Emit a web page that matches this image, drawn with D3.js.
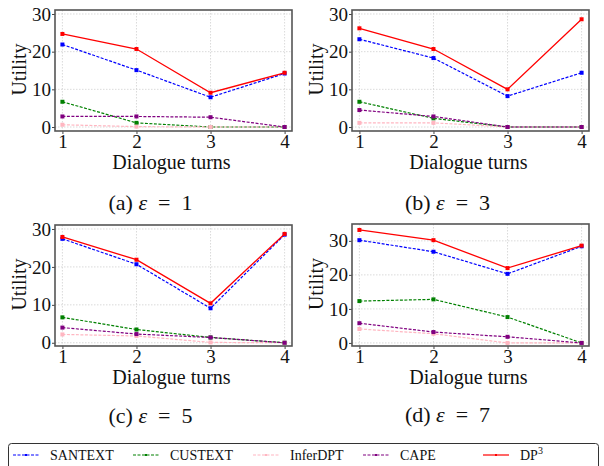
<!DOCTYPE html>
<html>
<head>
<meta charset="utf-8">
<style>
  body { margin: 0; background: white; }
  svg { font-family: 'Liberation Serif', 'Times New Roman', serif; }
</style>
</head>
<body>
<svg width="604" height="466"></svg>
<script src="https://d3js.org/d3.v7.min.js"></script>
<script>
// dialogue turns on the x axis
const turns = [1, 2, 3, 4];

const methods = ["SANTEXT", "CUSTEXT", "InferDPT", "CAPE", "DP3"];
const colors = ["#0000ff", "#008000", "#ffb6c1", "#800080", "#ff0000"];

// utility per method, one array per panel (eps = 1, 3, 5, 7)
const eps1 = [
  [21.9, 15.1, 7.9, 14.2],
  [6.7, 1.1, 0.0, 0.0],
  [0.6, 0.1, 0.0, 0.0],
  [2.8, 2.8, 2.6, 0.0],
  [24.7, 20.7, 9.1, 14.4]
];
const eps3 = [
  [23.3, 18.3, 8.2, 14.4],
  [6.7, 2.3, 0.0, 0.0],
  [1.1, 1.1, 0.0, 0.0],
  [4.5, 2.8, 0.0, 0.0],
  [26.2, 20.7, 10.0, 28.6]
];
const eps5 = [
  [27.4, 20.7, 9.1, 28.5],
  [6.7, 3.5, 1.4, 0.0],
  [2.2, 1.8, 0.1, 0.0],
  [4.0, 2.3, 1.4, 0.0],
  [27.9, 21.9, 10.4, 28.7]
];
const eps7 = [
  [30.2, 26.8, 20.3, 28.4],
  [12.3, 12.8, 7.6, 0.0],
  [4.1, 2.7, 0.0, 0.0],
  [5.8, 3.2, 1.8, 0.0],
  [33.2, 30.2, 22.0, 28.6]
];

const yTicks = [0, 10, 20, 30];
const captions = ["(a) ", "(b) ", "(c) ", "(d) "];
const epsValues = [1, 3, 5, 7];

const panels = [
  { data: eps1, x: 55, y: 10, ydom: [-1.06, 31.06] },
  { data: eps3, x: 352, y: 10, ydom: [-1.06, 31.06] },
  { data: eps5, x: 55, y: 225, ydom: [-0.85, 31.05] },
  { data: eps7, x: 352, y: 224, ydom: [-0.9, 34.95] }
];

const svg = d3.select("svg");
const pw = 237, ph = 121;

panels.forEach((p, pi) => {
  const h = (pi < 2) ? ph : (346 - p.y);
  const g = svg.append("g").attr("transform", `translate(${p.x},${p.y})`);
  const x = d3.scaleLinear().domain([0.9, 4.1]).range([0, pw]);
  const y = d3.scaleLinear().domain(p.ydom).range([h, 0]);

  // grid
  g.selectAll(".gx").data(turns).join("line")
    .attr("x1", d => x(d)).attr("x2", d => x(d))
    .attr("y1", 0).attr("y2", h)
    .attr("stroke", "#d0d0d0").attr("stroke-width", 0.8)
    .attr("stroke-dasharray", "1.5,1.5");
  g.selectAll(".gy").data(yTicks).join("line")
    .attr("x1", 0).attr("x2", pw)
    .attr("y1", d => y(d)).attr("y2", d => y(d))
    .attr("stroke", "#d0d0d0").attr("stroke-width", 0.8)
    .attr("stroke-dasharray", "1.5,1.5");

  // axes
  const xa = g.append("g").attr("transform", `translate(0,${h})`)
    .call(d3.axisBottom(x).tickValues(turns).tickFormat(d3.format("d")).tickSize(3).tickPadding(0));
  const ya = g.append("g")
    .call(d3.axisLeft(y).tickValues(yTicks).tickFormat(d3.format("d")).tickSize(3).tickPadding(1));
  [xa, ya].forEach(a => {
    a.attr("font-family", null);
    a.select(".domain").remove();
    a.selectAll("line").attr("stroke", "#444");
    a.selectAll("text").attr("font-size", 19).attr("fill", "#111");
  });

  const line = d3.line().x((d, i) => x(turns[i])).y(d => y(d));

  p.data.forEach((vals, mi) => {
    g.append("path")
      .attr("d", line(vals))
      .attr("fill", "none")
      .attr("stroke", colors[mi])
      .attr("stroke-width", mi === 4 ? 1.3 : 1.2)
      .attr("stroke-dasharray", mi === 4 ? null : "3,1.5");
    g.selectAll(".m" + mi).data(vals).join("rect")
      .attr("x", (d, i) => x(turns[i]) - 2)
      .attr("y", d => y(d) - 2)
      .attr("width", 4).attr("height", 4)
      .attr("fill", colors[mi]);
  });

  // frame
  g.append("rect").attr("width", pw).attr("height", h)
    .attr("fill", "none").attr("stroke", "#555").attr("stroke-width", 1.6);

  g.append("text")
    .attr("x", pw / 2 - 2).attr("y", h + 38)
    .attr("text-anchor", "middle").attr("font-size", 20).attr("fill", "#111")
    .text("Dialogue turns");
  g.append("text")
    .attr("transform", `translate(${-29},${h / 2 - 1}) rotate(-90)`)
    .attr("text-anchor", "middle").attr("font-size", 20).attr("fill", "#111")
    .text("Utility");

  // caption
  const cap = g.append("text")
    .attr("x", pw / 2 - 23).attr("y", pi < 2 ? 200 : 198)
    .attr("text-anchor", "middle").attr("font-size", 22).attr("fill", "#111");
  cap.append("tspan").text(captions[pi]);
  cap.append("tspan").attr("font-style", "italic").text("\u03b5");
  cap.append("tspan").text("\u2002=\u2002" + epsValues[pi]);
});

// legend
const lg = svg.append("g");
lg.append("rect").attr("x", 8.5).attr("y", 443.5).attr("width", 590).attr("height", 40)
  .attr("rx", 3).attr("fill", "white").attr("stroke", "#333").attr("stroke-width", 1);
const legX = [13, 133, 253, 363, 483];
methods.forEach((m, i) => {
  lg.append("line").attr("x1", legX[i]).attr("x2", legX[i] + 26)
    .attr("y1", 455).attr("y2", 455)
    .attr("stroke", colors[i]).attr("stroke-width", 1.2)
    .attr("stroke-dasharray", i === 4 ? null : "3,1.5");
  lg.append("rect").attr("x", legX[i] + 12).attr("y", 454).attr("width", 2).attr("height", 2)
    .attr("fill", colors[i]);
  const t = lg.append("text").attr("x", legX[i] + 37).attr("y", 460)
    .attr("font-size", 14).attr("fill", "#111");
  if (m === "DP3") {
    t.append("tspan").text("DP");
    t.append("tspan").attr("dy", -6).attr("font-size", 10).text("3");
  } else {
    t.text(m);
  }
});
</script>
</body>
</html>
